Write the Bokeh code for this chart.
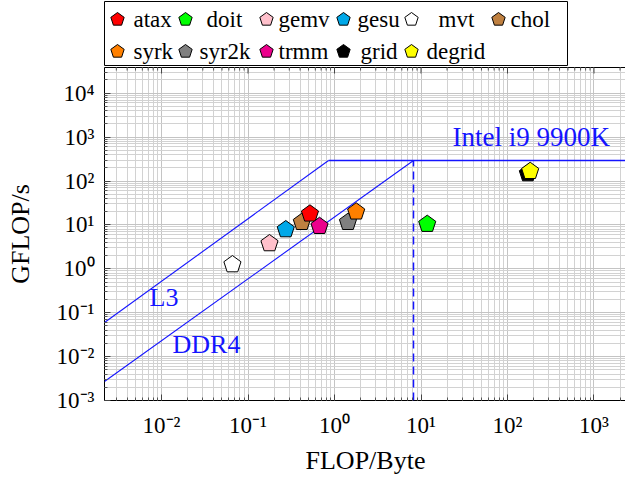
import numpy as np
from bokeh.plotting import figure
from bokeh.layouts import column
from bokeh.models import FixedTicker, Range1d
from bokeh.embed import file_html
from bokeh.resources import INLINE
from bokeh.core.properties import value

# ---- data ----
kernels = ["atax", "doit", "gemv", "gesu", "mvt", "chol",
           "syrk", "syr2k", "trmm", "grid", "degrid"]
intensity = [0.52, 11.8, 0.177, 0.273, 0.066, 0.419,
             1.78, 1.43, 0.671, 172, 183]
gflops = [17.9, 10.4, 3.77, 7.85, 1.25, 11.5,
          19.9, 11.5, 9.33, 148, 167]
colors = ["#ff0000", "#00ff00", "#ffc0cb", "#00a8e8", "#ffffff", "#bf8040",
          "#ff8000", "#808080", "#ec008c", "#000000", "#ffff00"]

# roofline
peak = 293.0
l3_x = [0.00219, 0.853]
l3_y = [0.0598, 293.0]
ddr4_x = [0.00219, 8.19]
ddr4_y = [0.00271, 293.0]
roof_x = [0.853, 2377]
ridge_x = 8.19

x_ticks = [1e-2, 1e-1, 1e0, 1e1, 1e2, 1e3]
x_labels = ["10⁻²", "10⁻¹", "10⁰", "10¹", "10²", "10³"]
y_ticks = [1e-3, 1e-2, 1e-1, 1e0, 1e1, 1e2, 1e3, 1e4]
y_labels = ["10⁻³", "10⁻²", "10⁻¹", "10⁰", "10¹", "10²", "10³", "10⁴"]

FONT = "Liberation Serif"
BLUE = "#1414ff"
XMIN, XMAX, YMIN, YMAX = 0.00219, 2377, 1e-3, 38500

def minors(lo, hi):
    return [m * 10.0 ** e for e in range(lo, hi) for m in range(2, 10)]

# ---------------- main plot ----------------
p = figure(frame_width=522, frame_height=333, x_axis_type="log", y_axis_type="log",
           x_range=Range1d(XMIN, XMAX), y_range=Range1d(YMIN, YMAX),
           output_backend="svg", toolbar_location=None,
           min_border_left=103, min_border_right=0, min_border_top=1,
           min_border_bottom=10)

x_minor = [m for m in minors(-3, 4) if XMIN < m < XMAX]
p.xaxis.ticker = FixedTicker(ticks=x_ticks, minor_ticks=x_minor)
p.yaxis.ticker = FixedTicker(ticks=y_ticks, minor_ticks=minors(-3, 5))
p.xaxis.major_label_overrides = {t: l for t, l in zip(x_ticks, x_labels)}
p.yaxis.major_label_overrides = {t: l for t, l in zip(y_ticks, y_labels)}

for ax in (p.xaxis[0], p.yaxis[0]):
    ax.major_label_text_font = FONT
    ax.major_label_text_font_size = "23px"
    ax.major_label_text_color = "black"
    ax.axis_label_text_font = FONT
    ax.axis_label_text_font_size = "26px"
    ax.axis_label_text_font_style = "normal"
    ax.axis_label_text_color = "black"
    ax.major_tick_in = 6
    ax.major_tick_out = 0
    ax.minor_tick_in = 3
    ax.minor_tick_out = 0
    ax.axis_line_color = None
    ax.major_tick_line_color = "#444444"
    ax.minor_tick_line_color = "#555555"

p.xaxis[0].axis_label = "FLOP/Byte"
p.yaxis[0].axis_label = "GFLOP/s"
p.yaxis.major_label_orientation = "horizontal"
p.xaxis[0].major_label_standoff = 12
p.yaxis[0].major_label_standoff = 10
p.xaxis[0].axis_label_standoff = 5
p.yaxis[0].axis_label_standoff = 19

p.outline_line_color = "black"
p.outline_line_width = 1
p.grid.grid_line_color = "#c4c4c4"
p.grid.minor_grid_line_color = "#d2d2d2"
p.grid.grid_line_width = 1

# mirrored tick marks on the top edge
p.scatter(x=x_ticks, y=[YMAX] * len(x_ticks), marker="dash", angle=np.pi / 2,
          size=12, line_color="#444444", line_width=1)
p.scatter(x=x_minor, y=[YMAX] * len(x_minor), marker="dash", angle=np.pi / 2,
          size=6, line_color="#555555", line_width=1)

# rooflines
p.line(l3_x, l3_y, line_color=BLUE, line_width=1.1)
p.line(ddr4_x, ddr4_y, line_color=BLUE, line_width=1.1)
p.line(roof_x, [peak, peak], line_color=BLUE, line_width=1.6)
p.segment(x0=[ridge_x], y0=[YMIN], x1=[ridge_x], y1=[peak],
          line_color=BLUE, line_width=1.5, line_dash="8 5")

p.text(x=[23.1], y=[980], text=["Intel i9 9900K"], text_color=BLUE,
       text_font=value(FONT), text_font_size="27px",
       text_align="left", text_baseline="middle")
p.text(x=[0.00726, 0.0134], y=[0.222, 0.0189], text=["L3", "DDR4"],
       text_color=BLUE, text_font=value(FONT), text_font_size="26px",
       text_align="left", text_baseline="middle")

# points
draw_order = [5, 7, 0, 1, 2, 3, 4, 6, 8, 9, 10]
for i in draw_order:
    p.ngon(x=[intensity[i]], y=[gflops[i]], radius=9,
           radius_units="screen", n=5, angle=0,
           fill_color=colors[i], line_color="black", line_width=1)

# ---------------- legend (separate panel) ----------------
LW, LH = 463, 65
lg = figure(frame_width=LW, frame_height=LH, x_range=Range1d(0, LW), y_range=Range1d(0, LH),
            output_backend="svg", toolbar_location=None,
            min_border_left=104, min_border_right=58, min_border_top=1, min_border_bottom=0)
lg.axis.visible = False
lg.grid.visible = False
lg.outline_line_color = "black"
lg.outline_line_width = 1

glyph_cols = [13, 81, 162, 239, 307, 394]
text_cols = [[29, 102, 174, 253, 334, 406],
             [29, 95, 174, 256, 322]]
row_y = [47, 15]
gx, gy, tx, ty = [], [], [], []
for k in range(len(kernels)):
    r, c = divmod(k, 6)
    gx.append(glyph_cols[c]); gy.append(row_y[r])
    tx.append(text_cols[r][c]); ty.append(row_y[r])
lg.ngon(x=gx, y=gy, radius=7, radius_units="screen", n=5, angle=0,
        fill_color=colors, line_color="black", line_width=1)
lg.text(x=tx, y=ty, text=kernels, text_font=value(FONT), text_font_size="23px",
        text_align="left", text_baseline="middle", text_color="black")

layout = column(lg, p, spacing=0)
open("out.html", "w").write(file_html(layout, INLINE))
